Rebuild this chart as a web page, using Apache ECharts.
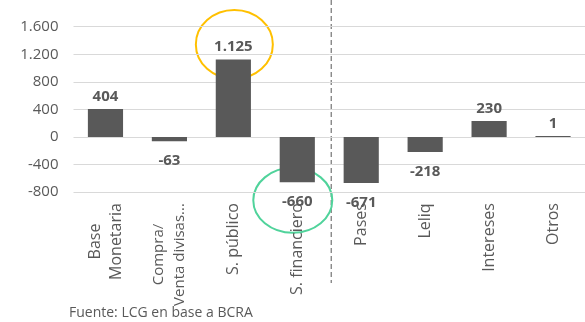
<!DOCTYPE html>
<html>
<head>
<meta charset="utf-8">
<script src="https://cdn.jsdelivr.net/npm/echarts@6/dist/echarts.min.js"></script>
<style>
  html, body { margin: 0; padding: 0; background: #fff; }
  #chart { width: 585px; height: 322px; }
</style>
</head>
<body>
<div id="chart"></div>
<script>
// Variación de la base monetaria por factor de explicación (millones)
const categories = ['Base\nMonetaria', 'Compra/\nVenta divisas...', 'S. público', 'S. financiero', 'Pases', 'Leliq', 'Intereses', 'Otros'];
const values = [404, -63, 1125, -660, -671, -218, 230, 1];
const yMin = -800;
const yMax = 1600;
const yStep = 400;
const sourceNote = 'Fuente: LCG en base a BCRA';

const FONT = "'Open Sans', 'Liberation Sans', sans-serif";
const TEXT = '#595959';
const BAR = '#595959';
const CAT_SIZE = 16;
const CAT_MAX_LEN = 100; // etiquetas más largas se achican un punto

// Miles con punto, como en la convención rioplatense
function fmt(n) {
  const s = Math.abs(n).toString().replace(/\B(?=(\d{3})+(?!\d))/g, '.');
  return (n < 0 ? '-' : '') + s;
}

// Las etiquetas de dos líneas se centran entre sí: cada línea ocupa el ancho de la más larga
const ctx = document.createElement('canvas').getContext('2d');
const rich = {};
categories.forEach((c, i) => {
  const lines = c.split('\n');
  let size = CAT_SIZE;
  ctx.font = size + 'px ' + FONT;
  let w = Math.max(...lines.map(l => ctx.measureText(l).width));
  if (w > CAT_MAX_LEN) {
    size = CAT_SIZE - 1;
    ctx.font = size + 'px ' + FONT;
    w = Math.max(...lines.map(l => ctx.measureText(l).width));
  }
  rich['w' + i] = { width: Math.ceil(w), align: 'center', fontSize: size, fontFamily: FONT, color: TEXT, lineHeight: 21 };
});

const chart = echarts.init(document.getElementById('chart'));

chart.setOption({
  animation: false,
  grid: { left: 73.5, right: 0, top: 26.7, bottom: 130 },
  xAxis: {
    type: 'category',
    data: categories,
    position: 'bottom',
    axisLine: { show: false, onZero: false },
    axisTick: { show: false },
    axisLabel: {
      rotate: 90,
      interval: 0,
      margin: 11,
      fontSize: CAT_SIZE,
      fontFamily: FONT,
      color: TEXT,
      lineHeight: 21,
      rich: rich,
      formatter: (v, i) => '{w' + i + '|' + v.split('\n').join('}\n{w' + i + '|') + '}'
    }
  },
  yAxis: {
    type: 'value',
    min: yMin,
    max: yMax,
    interval: yStep,
    axisLine: { show: false },
    axisTick: { show: false },
    splitLine: { lineStyle: { color: '#d9d9d9', width: 1 } },
    axisLabel: { margin: 15, fontSize: 15, fontFamily: FONT, color: TEXT, formatter: fmt }
  },
  series: [{
    type: 'bar',
    barWidth: '55%',
    barMinHeight: 1,
    itemStyle: { color: BAR },
    label: {
      show: true,
      fontSize: 15,
      fontWeight: 'bold',
      fontFamily: FONT,
      color: TEXT,
      formatter: p => fmt(p.value)
    },
    data: values.map(v => ({
      value: v,
      label: v < 0 ? { position: 'bottom', distance: 12 } : { position: 'top', distance: 5 }
    }))
  }],
  graphic: []
});

// Anotaciones: separador punteado y elipses que resaltan S. público y S. financiero
const px = (i, v) => chart.convertToPixel({ gridIndex: 0 }, [i, v]);
const divX = (px(3, 0)[0] + px(4, 0)[0]) / 2 + 2;
const pub = px(2, values[2]);
const fin = px(3, values[3]);

chart.setOption({
  graphic: [
    {
      type: 'line',
      shape: { x1: divX, y1: 0, x2: divX, y2: 283 },
      style: { stroke: '#7f7f7f', lineWidth: 1.3, lineDash: [5, 3] },
      silent: true
    },
    {
      type: 'ellipse',
      shape: { cx: pub[0] + 1, cy: pub[1] - 15, rx: 38.5, ry: 34.5 },
      style: { fill: null, stroke: '#ffc000', lineWidth: 2 },
      silent: true
    },
    {
      type: 'ellipse',
      shape: { cx: fin[0] - 4.5, cy: fin[1] + 18, rx: 39.5, ry: 32.5 },
      style: { fill: null, stroke: '#50d39b', lineWidth: 2 },
      silent: true
    },
    {
      type: 'text',
      left: 69,
      top: 306,
      style: { text: sourceNote, fontSize: 14, fontFamily: FONT, fill: TEXT }
    }
  ]
});
</script>
</body>
</html>
